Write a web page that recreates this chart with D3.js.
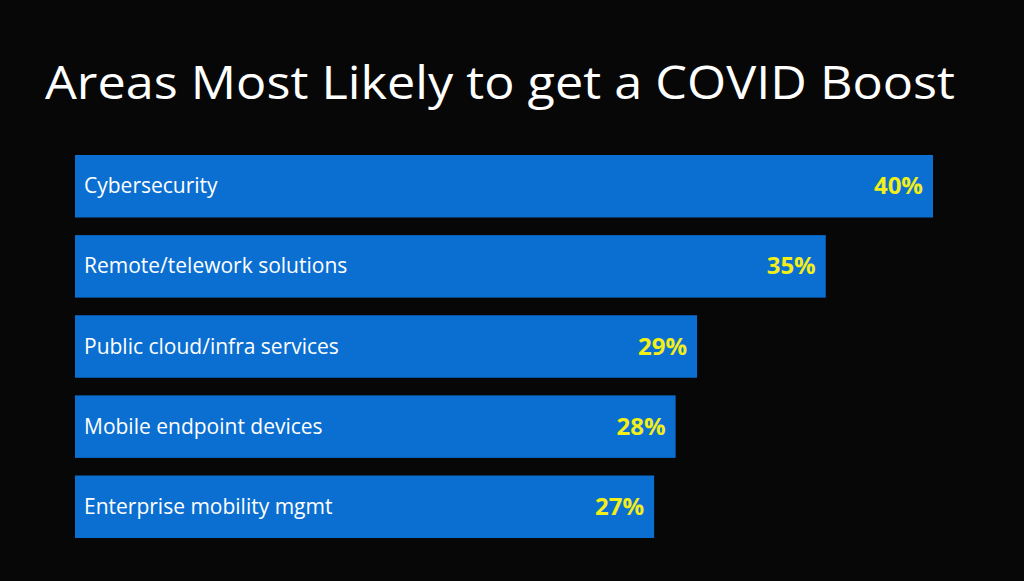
<!DOCTYPE html>
<html><head><meta charset="utf-8">
<script src="https://cdn.jsdelivr.net/npm/d3@7"></script>
<style>body{margin:0;background:#070707;}svg{display:block}</style>
</head><body>
<script>
const title = "Areas Most Likely to get a COVID Boost";
const categories = ["Cybersecurity","Remote/telework solutions","Public cloud/infra services","Mobile endpoint devices","Enterprise mobility mgmt"];
const values = [40,35,29,28,27];

const W=1024,H=581;
const svg=d3.select("body").append("svg").attr("width",W).attr("height",H);
svg.append("rect").attr("width",W).attr("height",H).attr("fill","#070707");

svg.append("text").attr("x",45).attr("y",99).attr("fill","#fff")
  .attr("font-family","Open Sans, Noto Sans, sans-serif").attr("font-size",45)
  .attr("textLength",910).attr("lengthAdjust","spacingAndGlyphs").text(title);

const x=d3.scaleLinear().domain([0,40]).range([75,933]);
const y=d3.scaleBand().domain(categories).range([155,538]).paddingInner(0.22).paddingOuter(0);

const g=svg.selectAll("g.bar").data(categories).join("g");
g.append("rect").attr("x",x(0)).attr("y",d=>y(d)).attr("height",y.bandwidth())
  .attr("width",(d,i)=>x(values[i])-x(0)).attr("fill","#0b6fd2");
g.append("text").attr("x",84).attr("y",d=>y(d)+y.bandwidth()/2+7).attr("fill","#fff")
  .attr("font-family","Open Sans, Noto Sans, sans-serif").attr("font-size",21).text(d=>d);
g.append("text").attr("x",(d,i)=>x(values[i])-10).attr("y",d=>y(d)+y.bandwidth()/2+8)
  .attr("text-anchor","end").attr("fill","#f2ee1a").attr("font-weight","bold")
  .attr("font-family","Open Sans, Noto Sans, sans-serif").attr("font-size",24).text((d,i)=>values[i]+"%");
</script>
</body></html>
